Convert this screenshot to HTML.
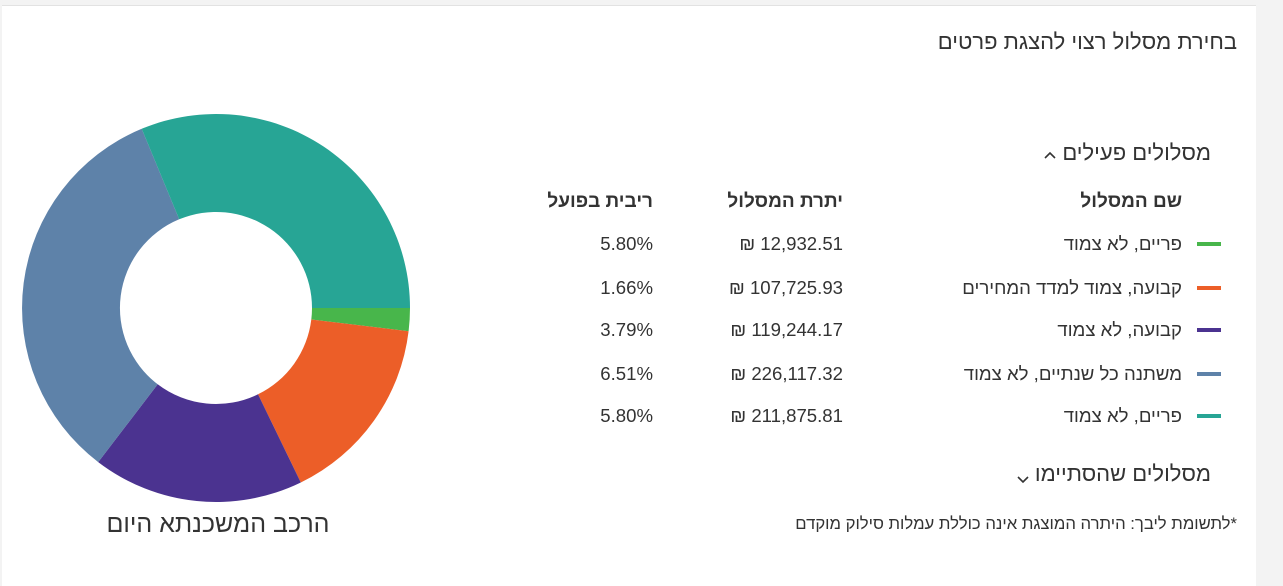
<!DOCTYPE html>
<html><head><meta charset="utf-8"><style>
body{margin:0;width:1283px;height:578px;background:#f3f3f3;overflow:hidden;font-family:"Liberation Sans","Noto Sans CJK SC",sans-serif;color:#333;}
.card{position:absolute;left:2px;top:5px;width:1254px;height:580px;background:#fff;border-top:1px solid #e2e2e2;}
.t{position:absolute;direction:rtl;white-space:nowrap;line-height:1;}
.sw{position:absolute;left:1197px;width:24px;height:4px;}
</style></head><body>
<div class="card"></div>
<svg style="position:absolute;left:0;top:0" width="1283" height="578">
<path d="M410,308 A194,194 0 0 1 408.6,331.2 L311.3,319.5 A96,96 0 0 0 312,308 Z" fill="#48b64b"/>
<path d="M408.6,331.2 A194,194 0 0 1 300.8,482.5 L258,394.3 A96,96 0 0 0 311.3,319.5 Z" fill="#ec5e28"/>
<path d="M300.8,482.5 A194,194 0 0 1 98.2,462.1 L157.7,384.3 A96,96 0 0 0 258,394.3 Z" fill="#4b3390"/>
<path d="M98.2,462.1 A194,194 0 0 1 141.7,128.8 L179.2,219.3 A96,96 0 0 0 157.7,384.3 Z" fill="#5e82a9"/>
<path d="M141.7,128.8 A194,194 0 0 1 410,308 L312,308 A96,96 0 0 0 179.2,219.3 Z" fill="#27a595"/>
<path d="M1045,158 L1050,153 L1055,158" fill="none" stroke="#333" stroke-width="1.6"/>
<path d="M1018,477 L1023,482 L1028,477" fill="none" stroke="#333" stroke-width="1.6"/>
</svg>
<div class="t" style="left:0;width:436px;text-align:center;top:512px;font-size:25px;">הרכב המשכנתא היום</div>
<div class="t" style="right:46px;top:31px;font-size:22px;">בחירת מסלול רצוי להצגת פרטים</div>
<div class="t" style="right:72px;top:142px;font-size:22px;">מסלולים פעילים</div>
<div class="t" style="right:101px;top:192px;font-size:19px;font-weight:bold;">שם המסלול</div>
<div class="t" style="right:440px;top:192px;font-size:19px;font-weight:bold;">יתרת המסלול</div>
<div class="t" style="right:630px;top:192px;font-size:19px;font-weight:bold;">ריבית בפועל</div>

<div class="sw" style="top:242px;background:#48b64b"></div>
<div class="sw" style="top:286px;background:#ec5e28"></div>
<div class="sw" style="top:328px;background:#4b3390"></div>
<div class="sw" style="top:372px;background:#5e82a9"></div>
<div class="sw" style="top:414px;background:#27a595"></div>

<div class="t" style="right:101px;top:235px;font-size:18.6px;">פריים, לא צמוד</div>
<div class="t" style="right:101px;top:279px;font-size:18.6px;">קבועה, צמוד למדד המחירים</div>
<div class="t" style="right:101px;top:321px;font-size:18.6px;">קבועה, לא צמוד</div>
<div class="t" style="right:101px;top:365px;font-size:18.6px;">משתנה כל שנתיים, לא צמוד</div>
<div class="t" style="right:101px;top:407px;font-size:18.6px;">פריים, לא צמוד</div>

<div class="t" style="right:440px;top:235px;font-size:18.6px;">12,932.51 ₪</div>
<div class="t" style="right:440px;top:279px;font-size:18.6px;">107,725.93 ₪</div>
<div class="t" style="right:440px;top:321px;font-size:18.6px;">119,244.17 ₪</div>
<div class="t" style="right:440px;top:365px;font-size:18.6px;">226,117.32 ₪</div>
<div class="t" style="right:440px;top:407px;font-size:18.6px;">211,875.81 ₪</div>

<div class="t" style="right:630px;top:235px;font-size:18.6px;direction:ltr;">5.80%</div>
<div class="t" style="right:630px;top:279px;font-size:18.6px;direction:ltr;">1.66%</div>
<div class="t" style="right:630px;top:321px;font-size:18.6px;direction:ltr;">3.79%</div>
<div class="t" style="right:630px;top:365px;font-size:18.6px;direction:ltr;">6.51%</div>
<div class="t" style="right:630px;top:407px;font-size:18.6px;direction:ltr;">5.80%</div>

<div class="t" style="right:72px;top:463px;font-size:22px;">מסלולים שהסתיימו</div>
<div class="t" style="right:46px;top:516px;font-size:16.7px;">*לתשומת ליבך: היתרה המוצגת אינה כוללת עמלות סילוק מוקדם</div>
</body></html>
